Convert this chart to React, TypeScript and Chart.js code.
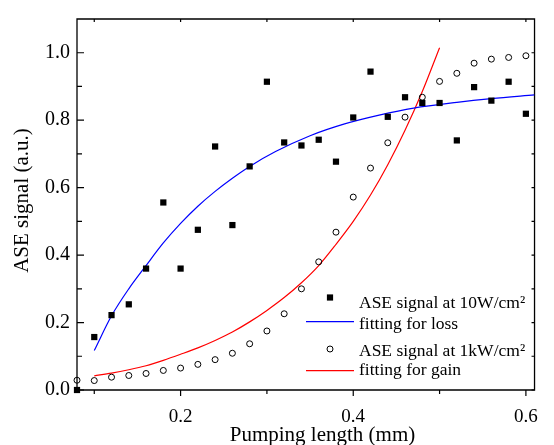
import React, { useEffect, useRef } from 'react';
import { Chart, registerables } from 'chart.js';

Chart.register(...registerables);

// ---- data ----
const pumpLength = [0.08, 0.10, 0.12, 0.14, 0.16, 0.18, 0.20, 0.22, 0.24, 0.26, 0.28, 0.30, 0.32, 0.34, 0.36, 0.38, 0.40, 0.42, 0.44, 0.46, 0.48, 0.50, 0.52, 0.54, 0.56, 0.58, 0.60];
const signal10W = [0.0, 0.157, 0.222, 0.254, 0.360, 0.556, 0.360, 0.475, 0.722, 0.489, 0.663, 0.914, 0.734, 0.725, 0.742, 0.677, 0.808, 0.944, 0.810, 0.868, 0.851, 0.851, 0.740, 0.898, 0.858, 0.914, 0.819];
const signal1kW = [0.029, 0.028, 0.038, 0.043, 0.049, 0.058, 0.065, 0.076, 0.090, 0.109, 0.137, 0.175, 0.226, 0.300, 0.380, 0.468, 0.572, 0.658, 0.733, 0.809, 0.868, 0.915, 0.939, 0.969, 0.981, 0.986, 0.991];

const lossFitX = [0.10, 0.12, 0.14, 0.16, 0.18, 0.20, 0.22, 0.24, 0.26, 0.28, 0.31, 0.35, 0.39, 0.43, 0.47, 0.52, 0.56, 0.61];
const lossFitY = [0.117, 0.220, 0.300, 0.369, 0.436, 0.494, 0.545, 0.589, 0.628, 0.663, 0.707, 0.754, 0.789, 0.815, 0.836, 0.853, 0.864, 0.875];

const gainFitX = [0.10, 0.12, 0.14, 0.16, 0.18, 0.20, 0.22, 0.24, 0.26, 0.28, 0.30, 0.32, 0.34, 0.36, 0.38, 0.40, 0.42, 0.44, 0.46, 0.48, 0.50];
const gainFitY = [0.042, 0.050, 0.060, 0.072, 0.088, 0.106, 0.125, 0.147, 0.172, 0.202, 0.236, 0.274, 0.318, 0.369, 0.432, 0.500, 0.578, 0.668, 0.770, 0.885, 1.015];

const seriesLabels = ['ASE signal at 10W/cm\u00B2', 'fitting for loss', 'ASE signal at 1kW/cm\u00B2', 'fitting for gain'];

const xTickLabels = [0.2, 0.4, 0.6];
const xMinorTicks = [0.1, 0.3, 0.5];
const yTickLabels = [0.0, 0.2, 0.4, 0.6, 0.8, 1.0];
const yMinorTicks = [0.1, 0.3, 0.5, 0.7, 0.9];
const xRange = [0.08, 0.61];
const yRange = [0, 1.1];
const xTitle = 'Pumping length (mm)';
const yTitle = 'ASE signal (a.u.)';

const FONT = "'Liberation Serif', 'Times New Roman', serif";

const framePlugin = {
  id: 'frameTicks',
  beforeDatasetsDraw(chart: any) {
    const { ctx, chartArea } = chart;
    const { left, right, top, bottom } = chartArea;
    const xs = chart.scales.x;
    const ys = chart.scales.y;
    ctx.save();
    ctx.strokeStyle = '#000';
    ctx.lineWidth = 1.3;
    ctx.beginPath();
    ctx.rect(left, top, right - left, bottom - top);
    ctx.stroke();
    ctx.lineWidth = 1.2;
    ctx.beginPath();
    xTickLabels.forEach((v) => {
      const p = xs.getPixelForValue(v);
      ctx.moveTo(p, bottom); ctx.lineTo(p, bottom + 6);
      ctx.moveTo(p, top); ctx.lineTo(p, top + 3);
    });
    xMinorTicks.forEach((v) => {
      const p = xs.getPixelForValue(v);
      ctx.moveTo(p, bottom); ctx.lineTo(p, bottom + 4);
      ctx.moveTo(p, top); ctx.lineTo(p, top + 3);
    });
    yTickLabels.forEach((v) => {
      const p = ys.getPixelForValue(v);
      ctx.moveTo(left, p); ctx.lineTo(left + 7, p);
      ctx.moveTo(right, p); ctx.lineTo(right - 3, p);
    });
    yMinorTicks.forEach((v) => {
      const p = ys.getPixelForValue(v);
      ctx.moveTo(left, p); ctx.lineTo(left + 5, p);
      ctx.moveTo(right, p); ctx.lineTo(right - 3, p);
    });
    ctx.stroke();
    ctx.restore();
  },
  afterDraw(chart: any) {
    const { ctx, chartArea } = chart;
    const ds = chart.data.datasets;

    // axis titles
    ctx.save();
    ctx.fillStyle = '#000';
    ctx.font = `21px ${FONT}`;
    ctx.textAlign = 'center';
    ctx.textBaseline = 'alphabetic';
    ctx.fillText(xTitle, chartArea.left + 245.5, 441);
    ctx.translate(27.5, chartArea.top + 181.5);
    ctx.rotate(-Math.PI / 2);
    ctx.fillText(yTitle, 0, 0);
    ctx.restore();

    // legend
    const rows = [
      { markerY: 297.5, textY: 308.3 },
      { markerY: 321.7, textY: 328.7 },
      { markerY: 349, textY: 356 },
      { markerY: 370.7, textY: 375 },
    ];
    const markerX = 330;
    const lineX0 = 306;
    const lineX1 = 354;
    const textX = 359;
    ctx.save();
    ctx.font = `17.5px ${FONT}`;
    ctx.textBaseline = 'alphabetic';
    ctx.textAlign = 'left';
    ds.forEach((d: any, i: number) => {
      const r = rows[i];
      if (d.showLine) {
        ctx.strokeStyle = d.borderColor;
        ctx.lineWidth = d.borderWidth;
        ctx.beginPath();
        ctx.moveTo(lineX0, r.markerY);
        ctx.lineTo(lineX1, r.markerY);
        ctx.stroke();
      } else if (d.pointStyle === 'rect') {
        ctx.fillStyle = '#000';
        ctx.fillRect(markerX - 3.1, r.markerY - 3.1, 6.2, 6.2);
      } else {
        ctx.strokeStyle = '#000';
        ctx.lineWidth = 1;
        ctx.beginPath();
        ctx.arc(markerX, r.markerY, 3, 0, Math.PI * 2);
        ctx.stroke();
      }
      ctx.fillStyle = '#000';
      ctx.fillText(d.label, textX, r.textY);
    });
    ctx.restore();
  },
};

export default function App() {
  const ref = useRef<HTMLCanvasElement>(null);
  useEffect(() => {
    document.body.style.margin = '0';
    const canvas = ref.current;
    if (!canvas) return;
    const chart = new Chart(canvas, {
      type: 'scatter',
      data: {
        datasets: [
          {
            label: seriesLabels[0],
            data: pumpLength.map((x, i) => ({ x, y: signal10W[i] })),
            pointStyle: 'rect',
            pointRadius: 4.4,
            pointBackgroundColor: '#000',
            pointBorderWidth: 0,
            showLine: false,
            clip: false,
          },
          {
            label: seriesLabels[1],
            data: lossFitX.map((x, i) => ({ x, y: lossFitY[i] })),
            showLine: true,
            borderColor: '#0000ff',
            borderWidth: 1.2,
            pointRadius: 0,
            cubicInterpolationMode: 'monotone',
            fill: false,
          },
          {
            label: seriesLabels[2],
            data: pumpLength.map((x, i) => ({ x, y: signal1kW[i] })),
            pointStyle: 'circle',
            pointRadius: 3,
            pointBackgroundColor: 'rgba(255,255,255,0)',
            pointBorderColor: '#000',
            pointBorderWidth: 1,
            showLine: false,
            clip: false,
          },
          {
            label: seriesLabels[3],
            data: gainFitX.map((x, i) => ({ x, y: gainFitY[i] })),
            showLine: true,
            borderColor: '#ff0000',
            borderWidth: 1.2,
            pointRadius: 0,
            cubicInterpolationMode: 'monotone',
            fill: false,
          },
        ],
      } as any,
      options: {
        animation: false,
        responsive: false,
        devicePixelRatio: 1,
        layout: { padding: { top: 11, right: 12, left: 0, bottom: 0 } },
        plugins: { legend: { display: false }, tooltip: { enabled: false } },
        scales: {
          x: {
            type: 'linear',
            min: xRange[0],
            max: xRange[1],
            grid: { display: false, drawTicks: false },
            border: { display: false },
            afterBuildTicks: (s: any) => { s.ticks = xTickLabels.map((v) => ({ value: v })); },
            afterFit: (s: any) => { s.height = 55; },
            ticks: {
              autoSkip: false,
              maxRotation: 0,
              minRotation: 0,
              padding: 16,
              color: '#000',
              font: { family: FONT, size: 19 },
              callback: (v: any) => Number(v).toFixed(1),
            },
            title: { display: false },
          },
          y: {
            type: 'linear',
            min: yRange[0],
            max: yRange[1],
            grid: { display: false, drawTicks: false },
            border: { display: false },
            afterBuildTicks: (s: any) => { s.ticks = yTickLabels.map((v) => ({ value: v })); },
            afterFit: (s: any) => { s.width = 77; },
            ticks: {
              autoSkip: false,
              padding: 7,
              color: '#000',
              font: { family: FONT, size: 20 },
              callback: (v: any) => Number(v).toFixed(1),
            },
            title: { display: false },
          },
        },
      } as any,
      plugins: [framePlugin],
    });
    return () => chart.destroy();
  }, []);
  return (
    <canvas
      ref={ref}
      width={554}
      height={445}
      style={{ display: 'block', width: '554px', height: '445px' }}
    />
  );
}
